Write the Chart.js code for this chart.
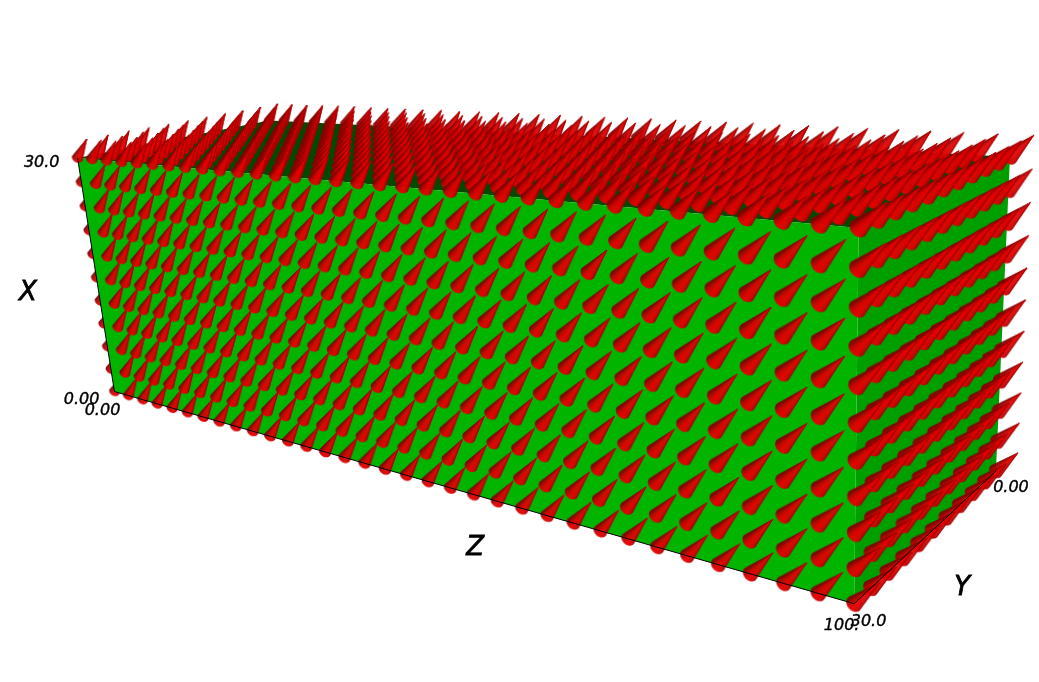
<!DOCTYPE html>
<html>
<head>
<meta charset="utf-8">
<title>Cone plot</title>
<style>
html, body { margin: 0; padding: 0; background: #fff; overflow: hidden; }
canvas { display: block; }
</style>
<script src="https://cdn.jsdelivr.net/npm/chart.js@4"></script>
</head>
<body>
<canvas id="grafica" width="1039" height="682"></canvas>
<script>
// grid of the cones
const xLevels = [0, 3, 6, 9, 12, 15, 18, 21, 24, 27, 30];
const yLevels = [0, 3, 6, 9, 12, 15, 18, 21, 24, 27, 30];
const zLevels = [0, 3.03, 6.06, 9.09, 12.12, 15.15, 18.18, 21.21, 24.24, 27.27, 30.3, 33.33, 36.36, 39.39, 42.42, 45.45, 48.48,
  51.52, 54.55, 57.58, 60.61, 63.64, 66.67, 69.7, 72.73, 75.76, 78.79, 81.82, 84.85, 87.88, 90.91, 93.94, 96.97, 100];

// cone vector for each z level
const coneX = [2.1, 2.1, 2.1, 2.1, 2.1, 2.1, 2.05, 2.05, 2.05, 2.05, 2.05, 2, 2, 2, 2, 2, 2,
  1.95, 1.95, 1.95, 1.95, 1.9, 1.9, 1.9, 1.9, 1.85, 1.85, 1.85, 1.8, 1.8, 1.8, 1.75, 1.75, 1.75];
const coneY = [-1.2, -1.2, -1.2, -1.2, -1.2, -1.2, -1.2, -1.2, -1.2, -1.2, -1.2, -1.2, -1.2, -1.2, -1.2, -1.15, -1.15,
  -1.15, -1.15, -1.15, -1.15, -1.15, -1.15, -1.1, -1.1, -1.1, -1.1, -1.1, -1.1, -1.1, -1.1, -1.1, -1.1, -1.1];
const coneZ = [0.65, 0.65, 0.65, 0.7, 0.7, 0.7, 0.75, 0.75, 0.8, 0.8, 0.85, 0.85, 0.9, 0.9, 0.95, 0.95, 1,
  1, 1.05, 1.05, 1.1, 1.15, 1.15, 1.2, 1.25, 1.25, 1.3, 1.35, 1.35, 1.4, 1.45, 1.45, 1.5, 1.55];

const tickLabels = ["30.0", "0.00", "0.00", "100.", "30.0", "0.00"];
const axisTitles = ["X", "Y", "Z"];

// box corners (x, y, z) and where they land on the picture
const cornersData = [[30, 30, 0], [0, 30, 0], [0, 30, 100], [30, 30, 100], [30, 0, 100], [0, 0, 100], [30, 0, 0]];
const cornersScreen = [[76, 157], [113, 392], [855, 606], [860, 226], [1012, 157], [998, 471], [268, 119]];

function solve(A, b) {
  const n = b.length;
  for (let i = 0; i < n; i++) {
    let p = i;
    for (let r = i + 1; r < n; r++) if (Math.abs(A[r][i]) > Math.abs(A[p][i])) p = r;
    [A[i], A[p]] = [A[p], A[i]];
    [b[i], b[p]] = [b[p], b[i]];
    for (let r = i + 1; r < n; r++) {
      const f = A[r][i] / A[i][i];
      for (let c = i; c < n; c++) A[r][c] -= f * A[i][c];
      b[r] -= f * b[i];
    }
  }
  const out = new Array(n).fill(0);
  for (let i = n - 1; i >= 0; i--) {
    let s = b[i];
    for (let c = i + 1; c < n; c++) s -= A[i][c] * out[c];
    out[i] = s / A[i][i];
  }
  return out;
}

function cameraFromCorners() {
  const rows = [], rhs = [];
  cornersData.forEach((d, i) => {
    const [X, Y, Z] = [d[0] / 30, d[1] / 30, d[2] / 100];
    const [u, v] = cornersScreen[i];
    rows.push([X, Y, Z, 1, 0, 0, 0, 0, -u * X, -u * Y, -u * Z]); rhs.push(u);
    rows.push([0, 0, 0, 0, X, Y, Z, 1, -v * X, -v * Y, -v * Z]); rhs.push(v);
  });
  const N = Array.from({ length: 11 }, () => new Array(11).fill(0));
  const t = new Array(11).fill(0);
  rows.forEach((r, k) => {
    for (let i = 0; i < 11; i++) {
      t[i] += r[i] * rhs[k];
      for (let j = 0; j < 11; j++) N[i][j] += r[i] * r[j];
    }
  });
  return solve(N, t);
}

const cam = cameraFromCorners();

function project(x, y, z) {
  const X = x / 30, Y = y / 30, Z = z / 100;
  const w = cam[8] * X + cam[9] * Y + cam[10] * Z + 1;
  return {
    x: (cam[0] * X + cam[1] * Y + cam[2] * Z + cam[3]) / w,
    y: (cam[4] * X + cam[5] * Y + cam[6] * Z + cam[7]) / w,
    w: w
  };
}

// one little picture per cone, centred on the base of the cone
function coneSprite(dx, dy) {
  const L = Math.hypot(dx, dy);
  const r = L * 0.26;
  const half = Math.ceil(L + r + 4);
  const c = document.createElement("canvas");
  c.width = c.height = half * 2;
  const g = c.getContext("2d");
  g.translate(half, half);
  const ax = dx / L, ay = dy / L;
  const nx = -ay, ny = ax;
  const steps = 12;
  for (let i = 0; i < steps; i++) {
    const t0 = -Math.PI / 2 + Math.PI * i / steps;
    const t1 = -Math.PI / 2 + Math.PI * (i + 1) / steps;
    const p0 = [r * Math.sin(t0) * nx - r * 0.8 * Math.cos(t0) * ax, r * Math.sin(t0) * ny - r * 0.8 * Math.cos(t0) * ay];
    const p1 = [r * Math.sin(t1) * nx - r * 0.8 * Math.cos(t1) * ax, r * Math.sin(t1) * ny - r * 0.8 * Math.cos(t1) * ay];
    const mid = (t0 + t1) / 2;
    const red = Math.round(Math.max(130, 228 * Math.cos((mid - 0.35) * 0.75)));
    g.fillStyle = g.strokeStyle = "rgb(" + red + ",0,0)";
    g.lineWidth = 0.5;
    g.beginPath();
    g.moveTo(dx, dy);
    g.lineTo(p0[0], p0[1]);
    g.lineTo(p1[0], p1[1]);
    g.closePath();
    g.fill();
    g.stroke();
  }
  return c;
}

function buildCones(list) {
  const rows = list.map(p => {
    const i = zLevels.indexOf(p[2]);
    const base = project(p[0], p[1], p[2]);
    const tip = project(p[0] + coneX[i], p[1] + coneY[i], p[2] + coneZ[i]);
    return { x: base.x, y: base.y, w: base.w, dx: tip.x - base.x, dy: tip.y - base.y };
  });
  rows.sort((a, b) => b.w - a.w);
  return { points: rows.map(r => ({ x: r.x, y: r.y })), sprites: rows.map(r => coneSprite(r.dx, r.dy)) };
}

const behind = [], front = [];
xLevels.forEach(x => {
  zLevels.forEach(z => {
    if (z === 0 && x !== 30) behind.push([x, 30, z]);
    else front.push([x, 30, z]);
  });
});
yLevels.forEach(y => {
  if (y === 30) return;
  zLevels.forEach(z => front.push([30, y, z]));
  xLevels.forEach(x => { if (x !== 30) front.push([x, y, 100]); });
});

const behindCones = buildCones(behind);
const frontCones = buildCones(front);

function face(a, b, c, d, color, order) {
  return {
    type: "scatter",
    data: [a, b, c, d, a].map(i => { const p = project(...cornersData[i]); return { x: p.x, y: p.y }; }),
    showLine: true,
    borderWidth: 0,
    borderColor: color,
    backgroundColor: color,
    fill: "shape",
    pointRadius: 0,
    order: order,
    clip: false
  };
}

function edge(a, b, order) {
  return {
    type: "scatter",
    data: [a, b].map(i => { const p = project(...cornersData[i]); return { x: p.x, y: p.y }; }),
    showLine: true,
    borderWidth: 1,
    borderColor: "#000",
    pointRadius: 0,
    fill: false,
    order: order,
    clip: false
  };
}

function coneDataset(cones, order) {
  return {
    type: "scatter",
    data: cones.points,
    showLine: false,
    pointRadius: 1,
    pointHoverRadius: 1,
    pointStyle: ctx => (ctx.type === "data" ? cones.sprites[ctx.dataIndex] : "circle"),
    order: order,
    clip: false
  };
}

const textLabels = {
  id: "textLabels",
  afterDatasetsDraw(chart) {
    const g = chart.ctx;
    const sx = chart.scales.x, sy = chart.scales.y;
    const put = (text, px, py, font, weight) => {
      g.font = font;
      g.fillStyle = "#000";
      g.strokeStyle = "#000";
      g.lineWidth = weight;
      g.textAlign = "left";
      g.textBaseline = "alphabetic";
      g.fillText(text, sx.getPixelForValue(px), sy.getPixelForValue(py));
      g.strokeText(text, sx.getPixelForValue(px), sy.getPixelForValue(py));
    };
    const small = "italic 16px 'DejaVu Sans'";
    const big = "italic 26px 'DejaVu Sans'";
    put(tickLabels[0], 22, 166, small, 0.4);
    put(tickLabels[1], 62, 404, small, 0.4);
    put(tickLabels[2], 83, 415, small, 0.4);
    put(tickLabels[3], 825, 632, small, 0.4);
    put(tickLabels[4], 852, 628, small, 0.4);
    put(tickLabels[5], 995, 493, small, 0.4);
    put(axisTitles[0], 17, 300, big, 0.8);
    put(axisTitles[1], 956, 597, big, 0.8);
    put(axisTitles[2], 466, 556, big, 0.8);
  }
};

new Chart(document.getElementById("grafica"), {
  type: "scatter",
  data: {
    datasets: [
      edge(0, 1, 0),
      edge(1, 2, 0),
      edge(2, 5, 0),
      coneDataset(frontCones, 1),
      face(0, 1, 2, 3, "#00b400", 2),
      face(2, 3, 4, 5, "#009f00", 3),
      face(0, 3, 4, 6, "#004b00", 4),
      coneDataset(behindCones, 5)
    ]
  },
  plugins: [textLabels],
  options: {
    responsive: false,
    animation: false,
    devicePixelRatio: 1,
    layout: { padding: 0 },
    events: [],
    plugins: { legend: { display: false }, tooltip: { enabled: false } },
    scales: {
      x: { type: "linear", min: 0, max: 1039, display: false },
      y: { type: "linear", min: 0, max: 682, reverse: true, display: false }
    }
  }
});
</script>
</body>
</html>
